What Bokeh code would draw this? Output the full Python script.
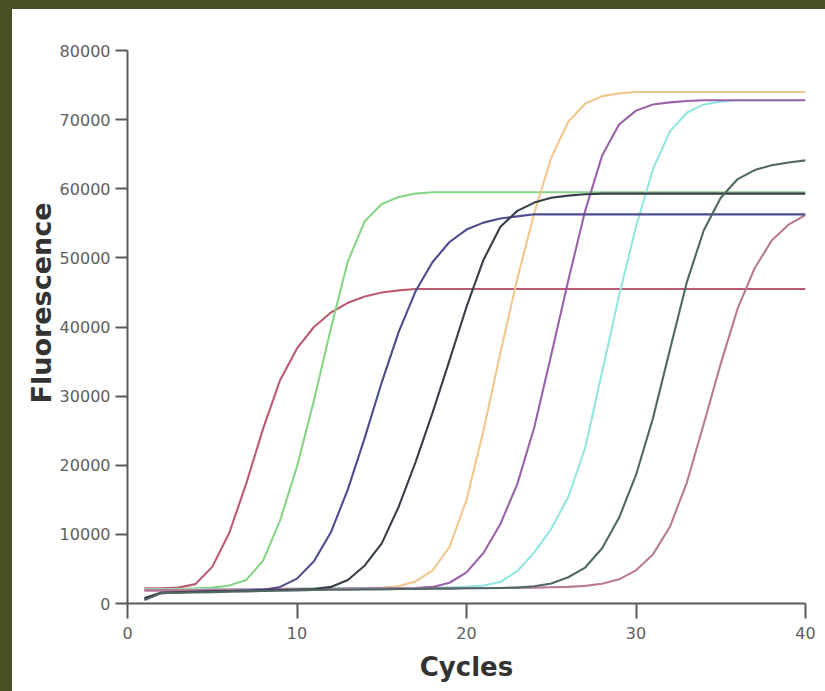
from bokeh.plotting import figure
from bokeh.models import Range1d, FixedTicker, GlobalInlineStyleSheet, Title
from bokeh.embed import file_html
from bokeh.resources import INLINE

# ---------------- data ----------------
cycles = list(range(1, 41))

x_ticks = [0, 10, 20, 30, 40]
y_ticks = [0, 10000, 20000, 30000, 40000, 50000, 60000, 70000, 80000]

red = [2200, 2200, 2300, 2800, 5300, 10200, 17300, 25300, 32300, 36900,
       40000, 42100, 43500, 44400, 45000, 45300] + [45500] * 24
green = [2100, 2100, 2100, 2200, 2300, 2600, 3400, 6200, 12000, 19800,
         29400, 39800, 49500, 55300, 57800, 58800, 59300] + [59500] * 23
navy = [600, 1500, 1600, 1700, 1750, 1800, 1850, 1950, 2400, 3600,
        6100, 10300, 16500, 24000, 32000, 39300, 45200, 49400, 52300, 54100,
        55100, 55700, 56000] + [56300] * 17
dark = [800, 1600, 1650, 1700, 1750, 1800, 1850, 1900, 1950, 2000,
        2100, 2400, 3400, 5500, 8700, 14000, 20500, 27600, 35200, 42900,
        49700, 54500, 56800, 58000, 58700, 59000, 59200] + [59300] * 13
orange = [2000, 2000, 2000, 2050, 2050, 2100, 2100, 2100, 2150, 2150,
          2200, 2200, 2200, 2250, 2300, 2500, 3200, 4800, 8200, 15000,
          25000, 36300, 47000, 56500, 64500, 69700, 72300, 73400, 73800] + [74000] * 11
purple = [1900, 1900, 1950, 1950, 2000, 2000, 2000, 2050, 2050, 2100,
          2100, 2100, 2150, 2150, 2200, 2200, 2250, 2400, 3000, 4500,
          7300, 11500, 17300, 25500, 36000, 46700, 56800, 64800, 69300, 71300,
          72200, 72500, 72700] + [72800] * 7
cyan = [2000, 2000, 2000, 2050, 2050, 2050, 2100, 2100, 2100, 2150,
        2150, 2150, 2200, 2200, 2200, 2250, 2250, 2300, 2300, 2400,
        2600, 3100, 4700, 7400, 10800, 15400, 22500, 33500, 44500, 54500,
        62800, 68300, 71000, 72200, 72600] + [72800] * 5
teal = [500, 1500, 1550, 1600, 1650, 1700, 1750, 1800, 1850, 1900,
        1950, 2000, 2000, 2050, 2050, 2100, 2100, 2150, 2150, 2200,
        2200, 2250, 2300, 2500, 2900, 3800, 5200, 8000, 12400, 18600,
        26800, 36700, 46500, 54000, 58700, 61400, 62700, 63400, 63800, 64100]
pink = [1900, 1900, 1950, 1950, 1950, 2000, 2000, 2000, 2050, 2050,
        2050, 2100, 2100, 2100, 2150, 2150, 2150, 2200, 2200, 2200,
        2250, 2250, 2300, 2300, 2350, 2400, 2550, 2850, 3500, 4800,
        7100, 11100, 17500, 26000, 34700, 42700, 48500, 52500, 54800, 56200]

series = [
    (red, "#bb5a70"),
    (green, "#86d486"),
    (orange, "#f0c78e"),
    (cyan, "#8fe6e2"),
    (purple, "#9a62a8"),
    (pink, "#b97a98"),
    (navy, "#4c4c8e"),
    (dark, "#383e48"),
    (teal, "#4f6866"),
]

# ---------------- figure ----------------
p = figure(width=813, height=682, output_backend="svg", toolbar_location=None,
           x_range=Range1d(0, 40), y_range=Range1d(0, 80000),
           min_border_left=115, min_border_right=20,
           min_border_top=41, min_border_bottom=88,
           background_fill_color="white", border_fill_color="white",
           outline_line_color=None)
p.styles = {"background-color": "white"}

p.stylesheets = [GlobalInlineStyleSheet(
    css="html, body { background-color: #4a5026; } "
        "body { margin: 9px 0 0 12px; overflow: hidden; }")]

for ys, col in series:
    p.line(cycles, ys, line_color=col, line_width=2.1, line_join="round")

p.grid.visible = False

axis_col = "#5a5a5a"
for ax in (p.xaxis[0], p.yaxis[0]):
    ax.axis_line_color = axis_col
    ax.axis_line_width = 2
    ax.major_tick_line_color = axis_col
    ax.major_tick_line_width = 2
    ax.major_tick_in = 0
    ax.minor_tick_line_color = None
    ax.major_label_text_font = "DejaVu Sans"
    ax.major_label_text_font_size = "16px"
    ax.major_label_text_color = "#606060"

p.xaxis.ticker = FixedTicker(ticks=x_ticks)
p.yaxis.ticker = FixedTicker(ticks=y_ticks)
p.xaxis.major_tick_out = 15
p.yaxis.major_tick_out = 12
p.xaxis.major_label_standoff = 8
p.yaxis.major_label_standoff = 5

p.xaxis.axis_label = "Cycles"
p.xaxis.axis_label_text_font = "DejaVu Sans"
p.xaxis.axis_label_text_font_style = "bold"
p.xaxis.axis_label_text_font_size = "26px"
p.xaxis.axis_label_text_color = "#333333"
p.xaxis.axis_label_standoff = 10

ytitle = Title(text="Fluorescence", align="right", offset=152,
               text_font="DejaVu Sans", text_font_style="bold",
               text_font_size="27px", text_color="#333333", standoff=0)
p.add_layout(ytitle, "left")

open("out.html", "w").write(file_html(p, INLINE))
